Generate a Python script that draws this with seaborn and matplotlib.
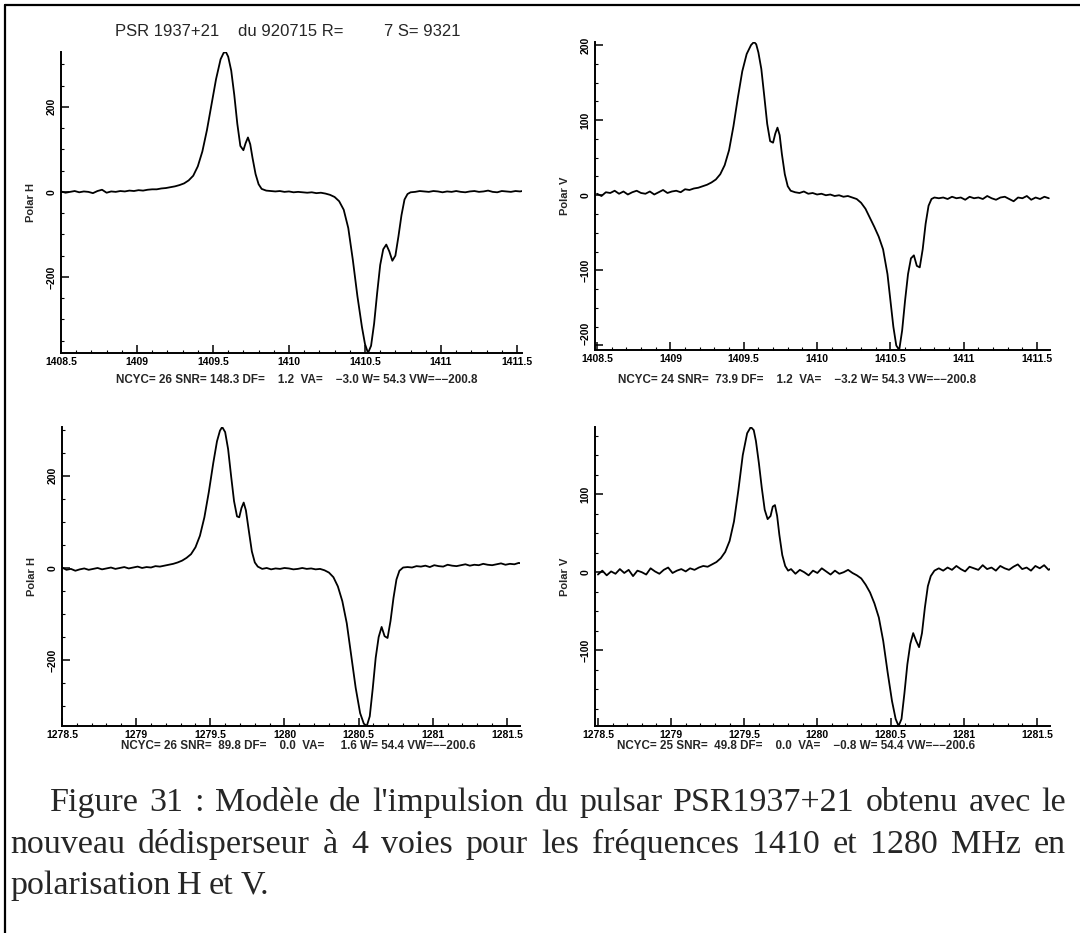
import matplotlib
matplotlib.use("Agg")
import matplotlib.pyplot as plt
from matplotlib.lines import Line2D
from matplotlib.ticker import FixedLocator, MultipleLocator
import seaborn as sns

# ---------------------------------------------------------------- data
title_parts = ["PSR 1937+21", "du 920715 R=", "7 S= 9321"]

freq_1410 = [
    1408.50, 1408.53, 1408.56, 1408.59, 1408.62, 1408.65, 1408.68, 1408.71, 1408.74, 1408.77,
    1408.80, 1408.83, 1408.86, 1408.89, 1408.92, 1408.95, 1408.98, 1409.01, 1409.04, 1409.07,
    1409.10, 1409.13, 1409.16, 1409.19, 1409.22, 1409.25, 1409.28, 1409.31, 1409.34, 1409.37,
    1409.40, 1409.43, 1409.46, 1409.49, 1409.52, 1409.55, 1409.57, 1409.585, 1409.60, 1409.62,
    1409.64, 1409.66, 1409.68, 1409.70, 1409.715, 1409.73, 1409.745, 1409.76, 1409.78, 1409.80,
    1409.82, 1409.85, 1409.88, 1409.91, 1409.94, 1409.97, 1410.00, 1410.03, 1410.06, 1410.09,
    1410.12, 1410.15, 1410.18, 1410.21, 1410.24, 1410.27, 1410.30, 1410.33, 1410.36, 1410.39,
    1410.42, 1410.45, 1410.48, 1410.50, 1410.52, 1410.54, 1410.56, 1410.58, 1410.60, 1410.62,
    1410.64, 1410.66, 1410.68, 1410.70, 1410.72, 1410.74, 1410.76, 1410.78, 1410.80, 1410.83,
    1410.86, 1410.89, 1410.92, 1410.95, 1410.98, 1411.01, 1411.04, 1411.07, 1411.10, 1411.13,
    1411.16, 1411.19, 1411.22, 1411.25, 1411.28, 1411.31, 1411.34, 1411.37, 1411.40, 1411.43,
    1411.46, 1411.49, 1411.52, 1411.55, 1411.58,
]

polar_h_1410 = [
    1, -2, 0, 2, -1, 1, 0, -3, 2, 5,
    -2, 1, 0, 2, 1, 3, 2, 4, 3, 5,
    6, 6, 8, 9, 11, 13, 16, 20, 27, 38,
    60, 95, 145, 205, 265, 312, 327, 329, 318, 285,
    228, 160, 108, 98, 115, 128, 112, 80, 42, 18,
    7, 3, 2, 1, 2, 0, 1, -1, 0, -1,
    -2, -1, -3, -2, -4, -7, -12, -22, -42, -85,
    -160, -245, -318, -358, -379, -362, -310, -238, -172, -135,
    -124, -140, -162, -150, -105, -55, -18, -5, -1, 0,
    2, 1, 0, 2, 1, -1, 1, 0, 2, 0,
    -1, 1, 2, 0, 1, 3, 0, -1, 2, 1,
    0, 2, 1, 3, 1,
]

polar_v_1410 = [
    2, -1, 4, 3, 6, 2, 5, 1, 4, 6,
    3, 2, 5, 1, 4, 7, 3, 5, 6, 4,
    8, 7, 9, 10, 12, 14, 17, 21, 28, 40,
    60, 92, 130, 165, 188, 200, 204, 201, 190, 168,
    132, 95, 72, 70, 82, 90, 80, 55, 28, 12,
    6, 4, 3, 5, 2, 3, 1, 2, 0, 1,
    -1, 0, -2, -1, -3, -5, -10, -18, -30, -42,
    -55, -72, -105, -140, -175, -200, -206, -180, -140, -105,
    -84, -80, -94, -96, -72, -38, -14, -5, -3, -4,
    -3, -5, -2, -4, -3, -6, -2, -4, -3, -5,
    -1, -4, -6, -3, -2, -5, -8, -3, -4, -1,
    -6, -3, -5, -2, -4,
]

freq_1280 = [
    1278.50, 1278.53, 1278.56, 1278.59, 1278.62, 1278.65, 1278.68, 1278.71, 1278.74, 1278.77,
    1278.80, 1278.83, 1278.86, 1278.89, 1278.92, 1278.95, 1278.98, 1279.01, 1279.04, 1279.07,
    1279.10, 1279.13, 1279.16, 1279.19, 1279.22, 1279.25, 1279.28, 1279.31, 1279.34, 1279.37,
    1279.40, 1279.43, 1279.46, 1279.49, 1279.52, 1279.545, 1279.565, 1279.58, 1279.60, 1279.62,
    1279.64, 1279.66, 1279.68, 1279.695, 1279.71, 1279.725, 1279.74, 1279.76, 1279.78, 1279.80,
    1279.82, 1279.85, 1279.88, 1279.91, 1279.94, 1279.97, 1280.00, 1280.03, 1280.06, 1280.09,
    1280.12, 1280.15, 1280.18, 1280.21, 1280.24, 1280.27, 1280.30, 1280.33, 1280.36, 1280.39,
    1280.42, 1280.45, 1280.48, 1280.51, 1280.535, 1280.555, 1280.575, 1280.595, 1280.615, 1280.635,
    1280.655, 1280.675, 1280.695, 1280.715, 1280.735, 1280.755, 1280.775, 1280.80, 1280.83, 1280.86,
    1280.89, 1280.92, 1280.95, 1280.98, 1281.01, 1281.04, 1281.07, 1281.10, 1281.13, 1281.16,
    1281.19, 1281.22, 1281.25, 1281.28, 1281.31, 1281.34, 1281.37, 1281.40, 1281.43, 1281.46,
    1281.49, 1281.52, 1281.55, 1281.58, 1281.61,
]

polar_h_1280 = [
    1, -4, -2, -6, -3, -1, -4, -2, 0, -3,
    -1, 1, -2, 0, 2, -1, 1, 3, 0, 2,
    1, 4, 3, 5, 7, 9, 12, 16, 22, 30,
    45, 70, 110, 165, 228, 275, 298, 306, 295, 258,
    200, 145, 112, 110, 130, 142, 125, 80, 36, 12,
    3, -2, 0, -3, -1, -2, 0, -1, -3, -2,
    0, -2, -1, -3, -2, -5, -10, -20, -40, -72,
    -120, -190, -260, -315, -338, -343, -322, -262, -195, -150,
    -128, -148, -152, -115, -65, -25, -6, 1, 2, 1,
    4, 3, 5, 2, 6, 4, 3, 7, 5, 4,
    6, 8, 5, 7, 6, 9, 7, 6, 8, 10,
    7, 9, 8, 11, 9,
]

polar_v_1280 = [
    -3, 2, -4, 1, -2, 4, -1, 3, -5, 2,
    0, -3, 5, 1, -2, 3, 6, -1, 2, 4,
    1, 5, 3, 6, 8, 7, 10, 13, 18, 26,
    40, 65, 105, 150, 178, 186, 182, 168, 140, 108,
    80, 68, 72, 84, 86, 72, 48, 22, 8, 2,
    4, -2, 3, 0, -4, 2, -1, 5, 1, -3,
    2, -2, 0, 3, -1, -4, -8, -16, -26, -40,
    -58, -88, -128, -165, -188, -197, -188, -155, -118, -92,
    -78, -88, -96, -78, -45, -18, -5, 2, 5, 2,
    6, 3, 8, 4, 1, 7, 5, 3, 9, 4,
    6, 2, 8, 5, 3, 7, 10, 4, 6, 2,
    8, 5, 9, 3, 6,
]

xticks_1410 = [1408.5, 1409.0, 1409.5, 1410.0, 1410.5, 1411.0, 1411.5]
xlabels_1410 = ["1408.5", "1409", "1409.5", "1410", "1410.5", "1411", "1411.5"]
xticks_1280 = [1278.5, 1279.0, 1279.5, 1280.0, 1280.5, 1281.0, 1281.5]
xlabels_1280 = ["1278.5", "1279", "1279.5", "1280", "1280.5", "1281", "1281.5"]

yticks_h = [-200, 0, 200]
ylabels_h = ["\u2212200", "0", "200"]
yticks_v_top = [-200, -100, 0, 100, 200]
ylabels_v_top = ["\u2212200", "\u2212100", "0", "100", "200"]
yticks_v_bottom = [-100, 0, 100]
ylabels_v_bottom = ["\u2212100", "0", "100"]

stats_h_1410 = "NCYC= 26 SNR= 148.3 DF=    1.2  VA=    \u22123.0 W= 54.3 VW=\u2212\u2212200.8"
stats_v_1410 = "NCYC= 24 SNR=  73.9 DF=    1.2  VA=    \u22123.2 W= 54.3 VW=\u2212\u2212200.8"
stats_h_1280 = "NCYC= 26 SNR=  89.8 DF=    0.0  VA=     1.6 W= 54.4 VW=\u2212\u2212200.6"
stats_v_1280 = "NCYC= 25 SNR=  49.8 DF=    0.0  VA=    \u22120.8 W= 54.4 VW=\u2212\u2212200.6"

caption_lines = [
    "Figure 31 : Modèle de l'impulsion du pulsar PSR1937+21 obtenu avec le",
    "nouveau dédisperseur à 4 voies pour les fréquences 1410 et 1280 MHz en",
    "polarisation H et V.",
]

# ---------------------------------------------------------------- style
sns.set_theme(style="ticks")
plt.rcParams["font.family"] = ["Liberation Sans", "DejaVu Sans"]

W, H = 1080, 933
fig = plt.figure(figsize=(W / 100, H / 100), dpi=100)
fig.patch.set_facecolor("white")


def px_rect(x0, y0, x1, y1):
    """Axes rectangle from pixel box (top-left origin)."""
    return [x0 / W, 1 - y1 / H, (x1 - x0) / W, (y1 - y0) / H]


panels = [
    dict(rect=px_rect(61, 52, 522, 353), f=freq_1410, v=polar_h_1410,
         xlim=(1408.5, 1411.533), xt=xticks_1410, xl=xlabels_1410,
         yt=yticks_h, yl=ylabels_h, ylab="Polar H", stats=stats_h_1410,
         sx=297, sy=380, yminor=50),
    dict(rect=px_rect(595, 42, 1050, 350), f=freq_1410, v=polar_v_1410,
         xlim=(1408.486, 1411.588), xt=xticks_1410, xl=xlabels_1410,
         yt=yticks_v_top, yl=ylabels_v_top, ylab="Polar V", stats=stats_v_1410,
         sx=797, sy=380, yminor=25),
    dict(rect=px_rect(62, 427, 520, 726), f=freq_1280, v=polar_h_1280,
         xlim=(1278.5, 1281.588), xt=xticks_1280, xl=xlabels_1280,
         yt=yticks_h, yl=ylabels_h, ylab="Polar H", stats=stats_h_1280,
         sx=298, sy=746, yminor=50),
    dict(rect=px_rect(595, 427, 1050, 726), f=freq_1280, v=polar_v_1280,
         xlim=(1278.48, 1281.59), xt=xticks_1280, xl=xlabels_1280,
         yt=yticks_v_bottom, yl=ylabels_v_bottom, ylab="Polar V", stats=stats_v_1280,
         sx=796, sy=746, yminor=25),
]

for p in panels:
    ax = fig.add_axes(p["rect"])
    ax.set_facecolor("white")
    sns.lineplot(x=p["f"], y=p["v"], ax=ax, color="black", linewidth=1.3,
                 estimator=None, sort=False, legend=False)
    ax.set_xlim(*p["xlim"])
    ax.set_ylim(min(p["v"]), max(p["v"]))

    for side in ("top", "right"):
        ax.spines[side].set_visible(False)
    for side in ("left", "bottom"):
        ax.spines[side].set_linewidth(1.4)
        ax.spines[side].set_color("black")

    ax.xaxis.set_major_locator(FixedLocator(p["xt"]))
    ax.set_xticklabels(p["xl"], fontsize=7.5, fontweight="bold")
    ax.xaxis.set_minor_locator(MultipleLocator(0.1))
    ax.yaxis.set_major_locator(FixedLocator(p["yt"]))
    ylab_objs = ax.set_yticklabels(p["yl"], fontsize=7.5, fontweight="bold",
                                   rotation=90, va="center")
    # a tick label sitting on the bottom corner is lifted clear of the x labels
    if p["yt"][0] <= min(p["v"]) + 10:
        ylab_objs[0].set_va("bottom")
    ax.yaxis.set_minor_locator(MultipleLocator(p["yminor"]))
    ax.tick_params(which="major", direction="in", length=6, width=1.1,
                   pad=3, color="black", labelcolor="black")
    ax.tick_params(which="minor", direction="in", length=2, width=0.8,
                   color="black")
    ax.set_xlabel("")
    ax.set_ylabel(p["ylab"], fontsize=8, fontweight="bold", labelpad=8)

    fig.text(p["sx"] / W, 1 - p["sy"] / H, p["stats"], fontsize=8.4,
             fontweight="bold", ha="center", va="center")

# header line, set in three fields like the plotter output
for part, xpos in zip(title_parts, [115, 238, 384]):
    fig.text(xpos / W, 1 - 32 / H, part, fontsize=12, ha="left", va="center")

# page frame
fig.add_artist(Line2D([5 / W, 1.0], [1 - 5 / H, 1 - 5 / H],
                      transform=fig.transFigure, color="black", linewidth=1.6))
fig.add_artist(Line2D([5 / W, 5 / W], [0.0, 1 - 5 / H],
                      transform=fig.transFigure, color="black", linewidth=1.6))

# justified caption
serif = ["Liberation Serif", "DejaVu Serif"]
renderer = fig.canvas.get_renderer()
cap_size = 24.5
line_specs = [(caption_lines[0], 50, 1066, 811, True),
              (caption_lines[1], 10, 1066, 853, True),
              (caption_lines[2], 10, None, 894, False)]
for text, x0, x1, ybase, justify in line_specs:
    words = text.split(" ")
    items = [fig.text(0, 1 - ybase / H, w, fontsize=cap_size, family=serif,
                      ha="left", va="baseline") for w in words]
    widths = [t.get_window_extent(renderer).width for t in items]
    if justify:
        gap = (x1 - x0 - sum(widths)) / (len(words) - 1)
    else:
        gap = 7.0
    x = x0
    for t, w in zip(items, widths):
        t.set_x(x / W)
        x += w + gap

fig.savefig("out.png", dpi=100, facecolor="white")
